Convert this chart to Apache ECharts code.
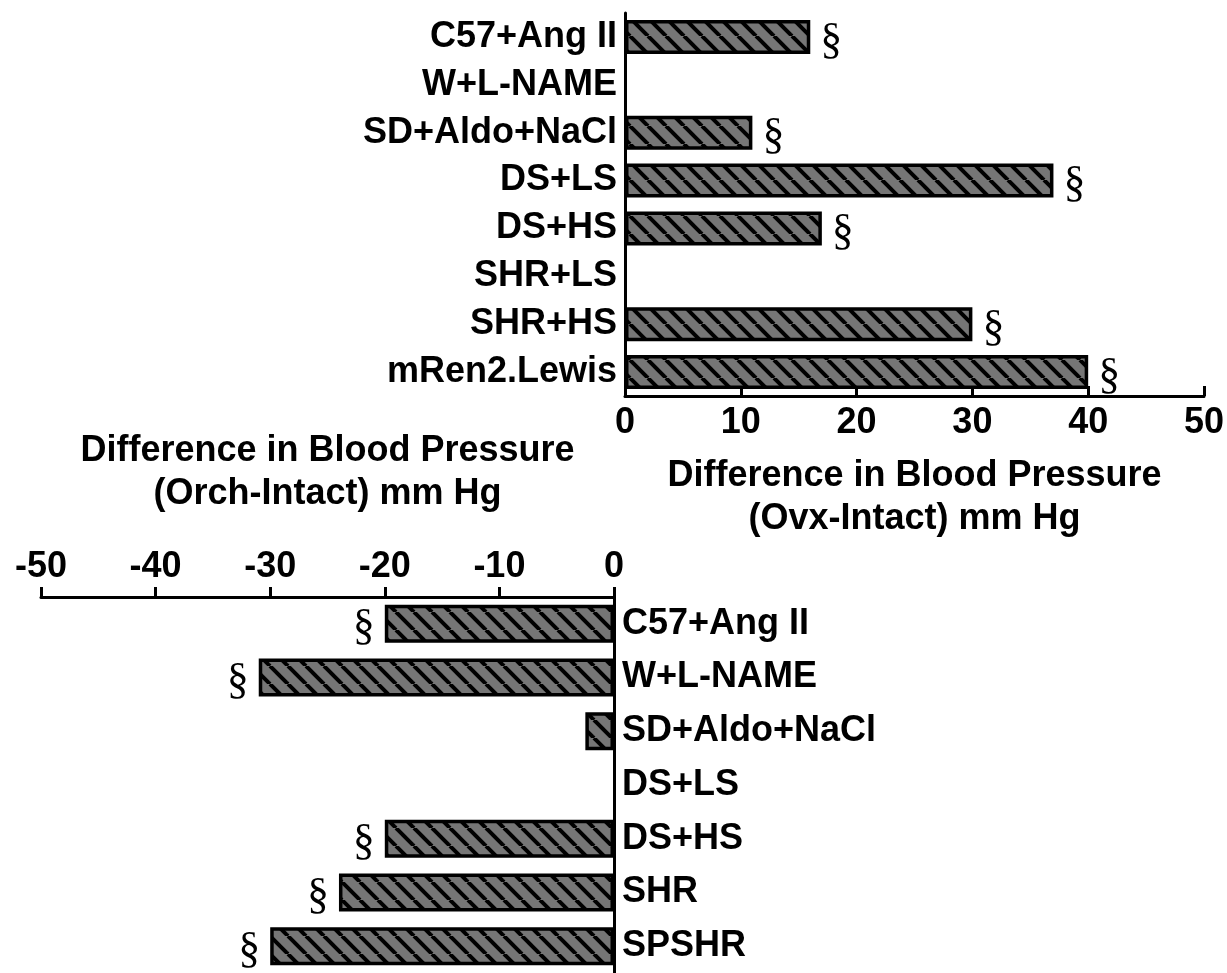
<!DOCTYPE html>
<html>
<head>
<meta charset="utf-8">
<style>
  html, body { margin: 0; padding: 0; background: #fff; }
  #bpChart { width: 1227px; height: 973px; }
</style>
<script src="https://cdn.jsdelivr.net/npm/echarts@6/dist/echarts.min.js"></script>
</head>
<body>
<div id="bpChart"></div>
<script>
// females: ovariectomy vs intact
var ovxGroups = ['C57+Ang II', 'W+L-NAME', 'SD+Aldo+NaCl', 'DS+LS', 'DS+HS', 'SHR+LS', 'SHR+HS', 'mRen2.Lewis'];
var ovxDiff = [16, null, 11, 37, 17, null, 30, 40];
var ovxSig = ['§', '', '§', '§', '§', '', '§', '§'];

// males: orchiectomy vs intact
var orchGroups = ['C57+Ang II', 'W+L-NAME', 'SD+Aldo+NaCl', 'DS+LS', 'DS+HS', 'SHR', 'SPSHR'];
var orchDiff = [-20, -31, -2.5, null, -20, -24, -30];
var orchSig = ['§', '§', '', '', '§', '§', '§'];

var ovxTicks = [0, 10, 20, 30, 40, 50];
var orchTicks = [-50, -40, -30, -20, -10, 0];

var font = 'Liberation Sans, Arial, sans-serif';

// hatch fill: grey with black "\" stripes
function makeHatch() {
  var s = 18;
  var c = document.createElement('canvas');
  c.width = s;
  c.height = s;
  var ctx = c.getContext('2d');
  ctx.fillStyle = '#767676';
  ctx.fillRect(0, 0, s, s);
  ctx.strokeStyle = '#000';
  ctx.lineWidth = 4;
  for (var k = -1; k <= 1; k++) {
    ctx.beginPath();
    ctx.moveTo(k * s, 0);
    ctx.lineTo(k * s + s, s);
    ctx.stroke();
  }
  return c;
}
var hatch = { image: makeHatch(), repeat: 'repeat' };

var chart = echarts.init(document.getElementById('bpChart'));

var axisLine = { show: true, lineStyle: { color: '#000', width: 3 } };
var tickLabel = { color: '#000', fontSize: 36, fontWeight: 'bold', fontFamily: font };
var catLabel = { color: '#000', fontSize: 36, fontWeight: 'bold', fontFamily: font, margin: 8 };
var nameStyle = { color: '#000', fontSize: 36, fontWeight: 'bold', fontFamily: font, lineHeight: 43, align: 'center' };
var sigLabel = function (sig, pos) {
  return {
    show: true,
    position: pos,
    distance: 10,
    offset: [0, 4],
    color: '#000',
    fontSize: 44,
    fontFamily: 'Liberation Serif, Times New Roman, serif',
    formatter: function (p) { return sig[p.dataIndex]; }
  };
};

var option = {
  backgroundColor: '#fff',
  animation: false,
  grid: [
    { left: 625, top: 13, width: 579, height: 383 },
    { left: 41, top: 597, width: 573, height: 380 }
  ],
  xAxis: [
    {
      gridIndex: 0,
      type: 'value',
      min: ovxTicks[0],
      max: ovxTicks[ovxTicks.length - 1],
      interval: 10,
      name: 'Difference in Blood Pressure\n(Ovx-Intact) mm Hg',
      nameLocation: 'middle',
      nameGap: 59,
      nameTextStyle: nameStyle,
      axisLine: axisLine,
      axisTick: { show: true, inside: true, length: 10, lineStyle: { color: '#000', width: 3 } },
      axisLabel: Object.assign({ margin: 9 }, tickLabel),
      splitLine: { show: false }
    },
    {
      gridIndex: 1,
      type: 'value',
      position: 'top',
      min: orchTicks[0],
      max: orchTicks[orchTicks.length - 1],
      interval: 10,
      name: 'Difference in Blood Pressure\n(Orch-Intact) mm Hg',
      nameLocation: 'middle',
      nameGap: 81,
      nameTextStyle: nameStyle,
      axisLine: axisLine,
      axisTick: { show: true, inside: false, length: 10, lineStyle: { color: '#000', width: 3 } },
      axisLabel: Object.assign({ margin: 12 }, tickLabel),
      splitLine: { show: false }
    }
  ],
  yAxis: [
    {
      gridIndex: 0,
      type: 'category',
      inverse: true,
      data: ovxGroups,
      axisLine: axisLine,
      axisTick: { show: false },
      axisLabel: catLabel
    },
    {
      gridIndex: 1,
      type: 'category',
      position: 'right',
      inverse: true,
      data: orchGroups,
      axisLine: axisLine,
      axisTick: { show: false },
      axisLabel: catLabel
    }
  ],
  series: [
    {
      name: 'Ovx',
      type: 'bar',
      xAxisIndex: 0,
      yAxisIndex: 0,
      data: ovxDiff,
      barWidth: 34,
      itemStyle: { color: hatch, borderColor: '#000', borderWidth: 3.5 },
      label: sigLabel(ovxSig, 'right')
    },
    {
      name: 'Orch',
      type: 'bar',
      xAxisIndex: 1,
      yAxisIndex: 1,
      data: orchDiff,
      barWidth: 38,
      itemStyle: { color: hatch, borderColor: '#000', borderWidth: 3.5 },
      label: sigLabel(orchSig, 'left')
    }
  ]
};
chart.setOption(option);
</script>
</body>
</html>
